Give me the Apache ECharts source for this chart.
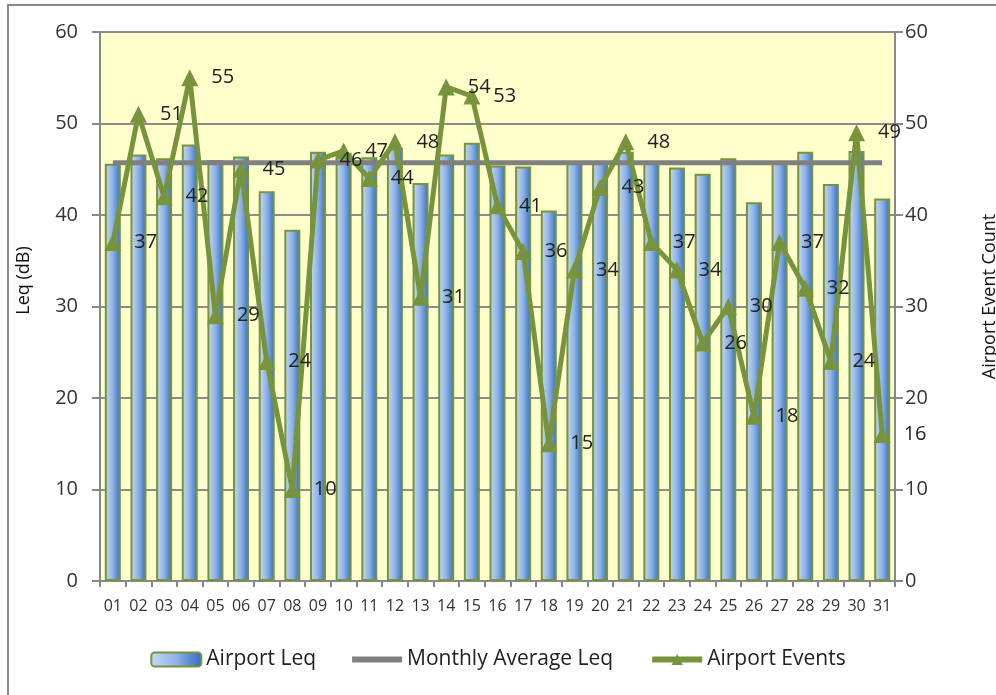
<!DOCTYPE html>
<html>
<head>
<meta charset="utf-8">
<script src="https://cdn.jsdelivr.net/npm/echarts@6/dist/echarts.min.js"></script>
<style>html,body{margin:0;padding:0;background:#fff}#c{width:996px;height:695px}</style>
</head>
<body>
<div id="c"></div>
<script>
var days = ['01','02','03','04','05','06','07','08','09','10','11','12','13','14','15','16','17','18','19','20','21','22','23','24','25','26','27','28','29','30','31'];
var airportLeq = [45.6,46.6,46.2,47.7,46.0,46.4,42.6,38.4,46.9,46.8,46.3,47.3,43.5,46.6,47.9,45.4,45.3,40.5,45.7,45.8,46.9,45.8,45.2,44.5,46.2,41.4,45.7,46.9,43.4,47.0,41.8];
var monthlyAvgLeq = [45.7,45.7,45.7,45.7,45.7,45.7,45.7,45.7,45.7,45.7,45.7,45.7,45.7,45.7,45.7,45.7,45.7,45.7,45.7,45.7,45.7,45.7,45.7,45.7,45.7,45.7,45.7,45.7,45.7,45.7,45.7];
var airportEvents = [37,51,42,55,29,45,24,10,46,47,44,48,31,54,53,41,36,15,34,43,48,37,34,26,30,18,37,32,24,49,16];
var yTicks = [0,10,20,30,40,50,60];

var chart = echarts.init(document.getElementById('c'), null, {renderer:'canvas'});
var green = '#77933C';
var font = 'Open Sans';
var barGrad = new echarts.graphic.LinearGradient(0,0,1,0,[
  {offset:0,color:'#C9DBF3'},{offset:0.5,color:'#8EB2E4'},{offset:1,color:'#2D6BC6'}]);
chart.setOption({
  animation:false,
  backgroundColor:'#fff',
  graphic:[{type:'rect',shape:{x:8,y:5,width:1000,height:700},style:{fill:'none',stroke:'#8a8a8a',lineWidth:2},z:-10}],
  grid:{left:100,right:101,top:32,bottom:114,show:true,backgroundColor:'#FFFFCC',borderWidth:0,outerBoundsMode:'none',containLabel:false},
  legend:{
    bottom:20,left:'center',itemGap:36,itemWidth:50,itemHeight:14,
    textStyle:{fontFamily:font,fontSize:21,color:'#222'},
    data:[{name:'Airport Leq'},{name:'Monthly Average Leq',icon:'path://M0,0L60,0L60,7L0,7Z'},{name:'Airport Events',lineStyle:{width:6}}]
  },
  xAxis:{
    type:'category',data:days,boundaryGap:true,
    axisLine:{lineStyle:{color:'#888',width:2}},
    axisTick:{show:true,length:6,lineStyle:{color:'#888',width:2}},
    axisLabel:{fontFamily:font,fontSize:16,color:'#333',margin:17,interval:0}
  },
  yAxis:[{
    type:'value',min:0,max:60,interval:10,position:'left',
    name:'Leq (dB)',nameLocation:'middle',nameGap:67,nameRotate:90,
    nameTextStyle:{fontFamily:font,fontSize:18,color:'#111',padding:[0,0,0,52]},
    axisLine:{show:true,lineStyle:{color:'#888',width:2}},
    axisTick:{show:true,length:8,lineStyle:{color:'#888',width:2}},
    axisLabel:{fontFamily:font,fontSize:20,color:'#333',margin:22},
    splitLine:{show:true,lineStyle:{color:'#8c8c8c',width:2}}
  },{
    type:'value',min:0,max:60,interval:10,position:'right',
    name:'Airport Event Count',nameLocation:'middle',nameGap:86,nameRotate:90,
    nameTextStyle:{fontFamily:font,fontSize:18,color:'#111',padding:[0,0,0,20]},
    axisLine:{show:true,lineStyle:{color:'#888',width:2}},
    axisTick:{show:true,length:8,lineStyle:{color:'#888',width:2}},
    axisLabel:{fontFamily:font,fontSize:20,color:'#333',margin:10},
    splitLine:{show:false}
  }],
  series:[{
    name:'Airport Leq',type:'bar',data:airportLeq,barWidth:16,yAxisIndex:0,
    itemStyle:{color:barGrad,borderColor:green,borderWidth:2},z:2
  },{
    name:'Monthly Average Leq',type:'line',data:monthlyAvgLeq,yAxisIndex:0,
    symbol:'none',lineStyle:{color:'#808080',width:5},itemStyle:{color:'#808080'},z:3
  },{
    name:'Airport Events',type:'line',data:airportEvents,yAxisIndex:1,
    symbol:'triangle',symbolSize:17,
    lineStyle:{color:green,width:5},itemStyle:{color:green},
    label:{show:true,position:'right',distance:13,fontFamily:font,fontSize:20,color:'#222'},
    z:4
  }]
});
</script>
</body>
</html>
